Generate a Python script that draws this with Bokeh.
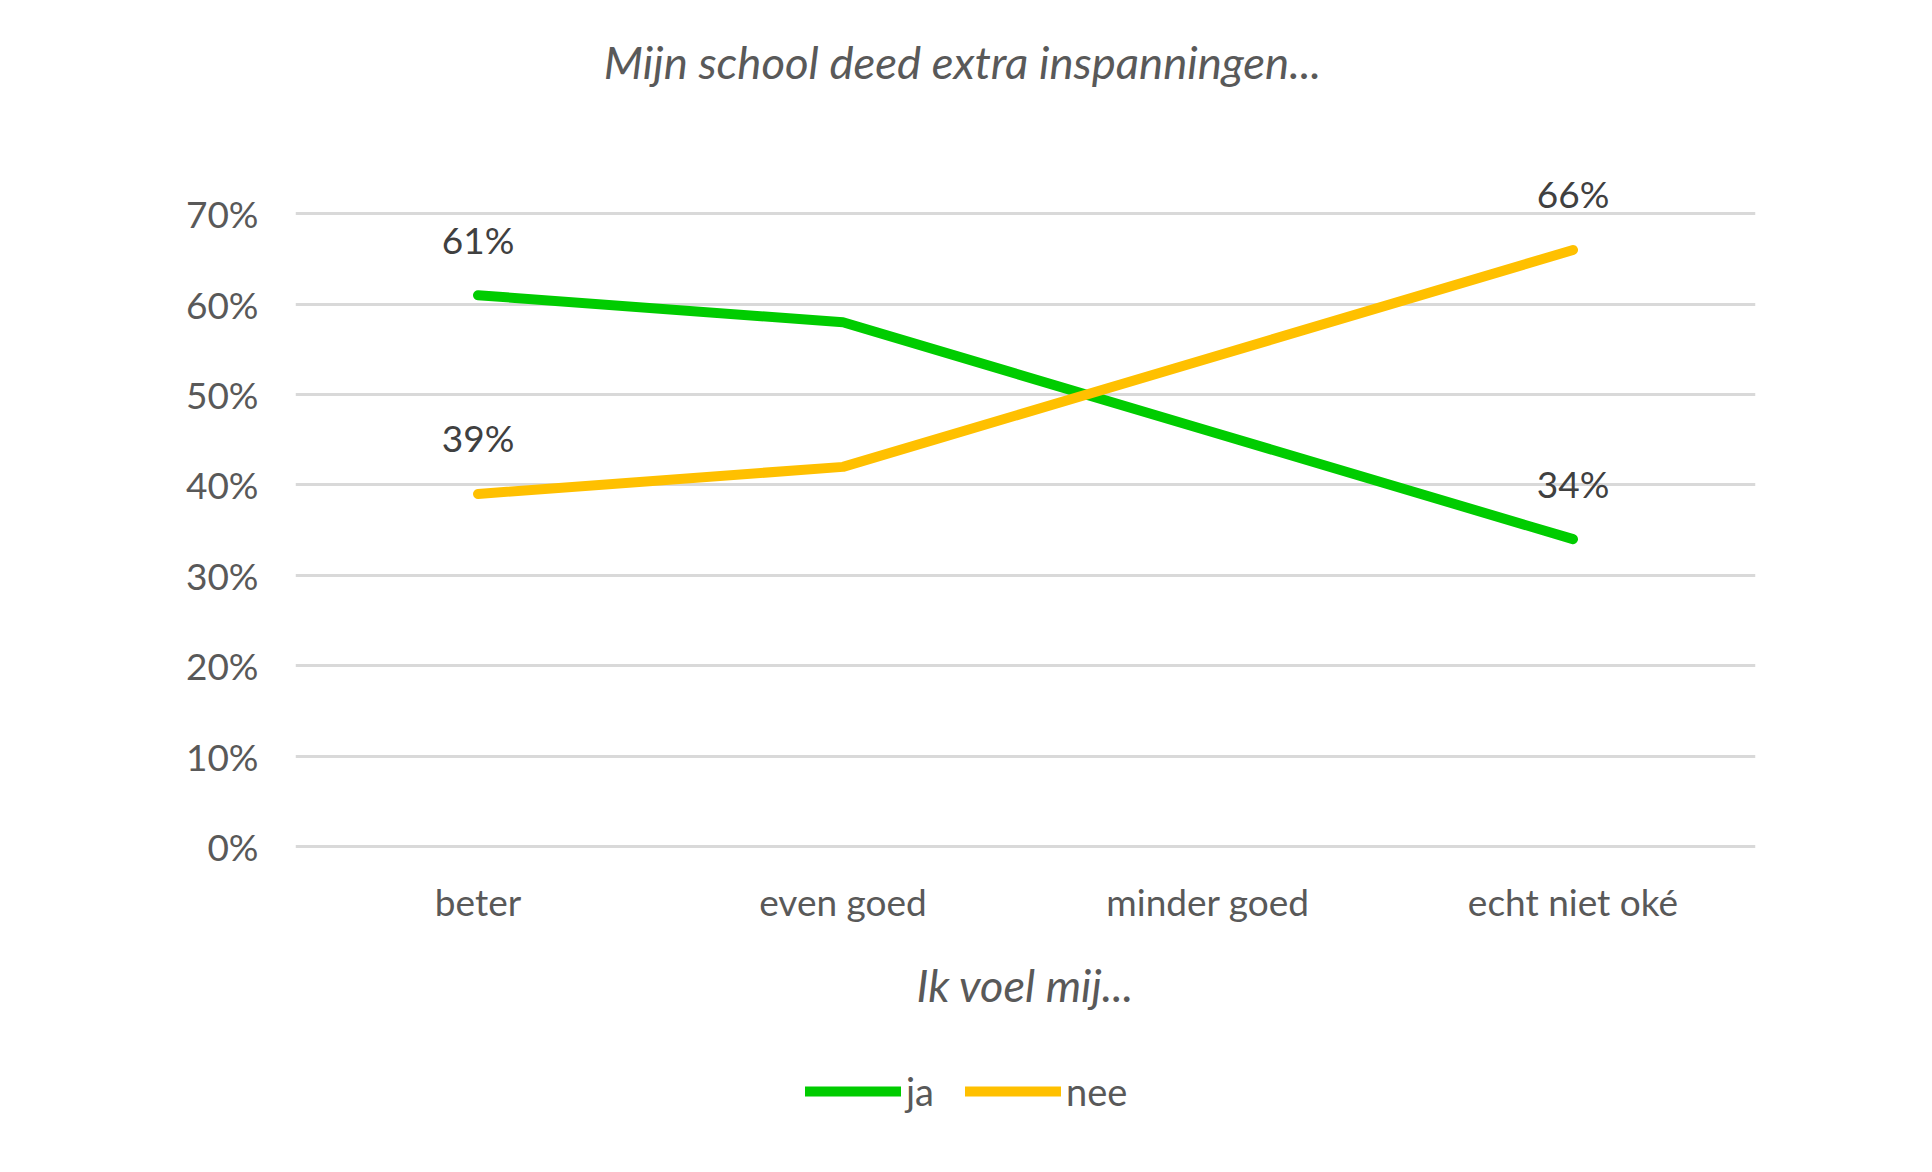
from bokeh.plotting import figure
from bokeh.layouts import column
from bokeh.models import (FactorRange, Range1d, FixedTicker, PrintfTickFormatter,
                          Legend, LegendItem, Label, ColumnDataSource)
from bokeh.core.properties import value
from bokeh.embed import file_html
from bokeh.resources import INLINE

# ---- data ----
categories = ["beter", "even goed", "minder goed", "echt niet oké"]
ja = [61, 58, 46, 34]
nee = [39, 42, 54, 66]
y_ticks = [0, 10, 20, 30, 40, 50, 60, 70]
series_names = ["ja", "nee"]
title_text = "Mijn school deed extra inspanningen..."
x_title = "Ik voel mij..."

GREEN = "#00CC00"
YELLOW = "#FFC000"
TXT = "#595959"
DLBL = "#404040"
FONT = "Lato"

W = 1916
MAIN_H = 1040
LEG_H = 116
LEFT = 295
FRAME_W = 1460
TOP = 10
FRAME_H = 854

p = figure(width=W, height=MAIN_H, x_range=FactorRange(factors=categories),
           y_range=Range1d(-2, 92.5), output_backend="svg", toolbar_location=None,
           min_border_left=LEFT, min_border_right=W - LEFT - FRAME_W,
           min_border_top=TOP, min_border_bottom=MAIN_H - TOP - FRAME_H)
p.outline_line_color = None
p.background_fill_color = "white"
p.border_fill_color = "white"

# grid
p.xgrid.visible = False
p.ygrid.grid_line_color = "#D9D9D9"
p.ygrid.grid_line_width = 2.8
p.yaxis.ticker = FixedTicker(ticks=y_ticks)
p.ygrid.ticker = FixedTicker(ticks=y_ticks)
p.yaxis.formatter = PrintfTickFormatter(format="%d%%")

for ax in (p.xaxis, p.yaxis):
    ax.axis_line_color = None
    ax.major_tick_line_color = None
    ax.minor_tick_line_color = None
    ax.major_label_text_font = FONT
    ax.major_label_text_font_size = "37px"
    ax.major_label_text_color = TXT
p.yaxis.major_label_standoff = 31
p.xaxis.major_label_standoff = 8

p.xaxis.axis_label = x_title
p.xaxis.axis_label_text_font = FONT
p.xaxis.axis_label_text_font_style = "italic"
p.xaxis.axis_label_text_font_size = "45px"
p.xaxis.axis_label_text_color = TXT
p.xaxis.axis_label_standoff = 31

# lines
r_ja = p.line(categories, ja, line_color=GREEN, line_width=10,
              line_cap="round", line_join="round")
r_nee = p.line(categories, nee, line_color=YELLOW, line_width=10,
               line_cap="round", line_join="round")

# data labels (first and last point)
idx = [0, len(categories) - 1]
lbl_src = ColumnDataSource(dict(
    x=[categories[i] for i in idx] + [categories[i] for i in idx],
    y=[ja[i] for i in idx] + [nee[i] for i in idx],
    t=[f"{ja[i]}%" for i in idx] + [f"{nee[i]}%" for i in idx],
))
p.text(x="x", y="y", text="t", source=lbl_src, y_offset=-56,
       text_align="center", text_baseline="middle",
       text_font=value(FONT), text_font_size="37px", text_color=DLBL)

# chart title, centred on the whole figure (inside the frame area)
frame_bottom = TOP + FRAME_H
p.add_layout(Label(x=W / 2 + 4 - LEFT, y=frame_bottom - 61, x_units="screen",
                   y_units="screen", text=title_text, text_align="center",
                   text_baseline="middle", text_font=FONT,
                   text_font_style="italic", text_font_size="45.5px",
                   text_color=TXT))

# legend strip below the chart (frame is aligned with the chart's frame)
pl = figure(width=W, height=LEG_H, x_range=Range1d(0, 1), y_range=Range1d(0, 1),
            output_backend="svg", toolbar_location=None,
            x_axis_type=None, y_axis_type=None,
            min_border_left=0, min_border_right=0, min_border_top=0,
            min_border_bottom=0)
pl.outline_line_color = None
pl.xgrid.visible = False
pl.ygrid.visible = False
nan = float("nan")
proxy_ja = pl.line(x=[nan], y=[nan], line_color=GREEN, line_width=10,
                   line_cap="round")
proxy_nee = pl.line(x=[nan], y=[nan], line_color=YELLOW, line_width=10,
                    line_cap="round")
legend = Legend(items=[LegendItem(label=series_names[0], renderers=[proxy_ja]),
                       LegendItem(label=series_names[1], renderers=[proxy_nee])],
                orientation="horizontal", location=(510, 42),
                glyph_width=96, glyph_height=44, label_standoff=5, spacing=31,
                padding=0, margin=0, border_line_alpha=0,
                background_fill_alpha=0,
                label_text_font=FONT, label_text_font_size="38px",
                label_text_color=TXT)
pl.add_layout(legend)

layout = column(p, pl, spacing=0)
open("out.html", "w").write(file_html(layout, INLINE))
